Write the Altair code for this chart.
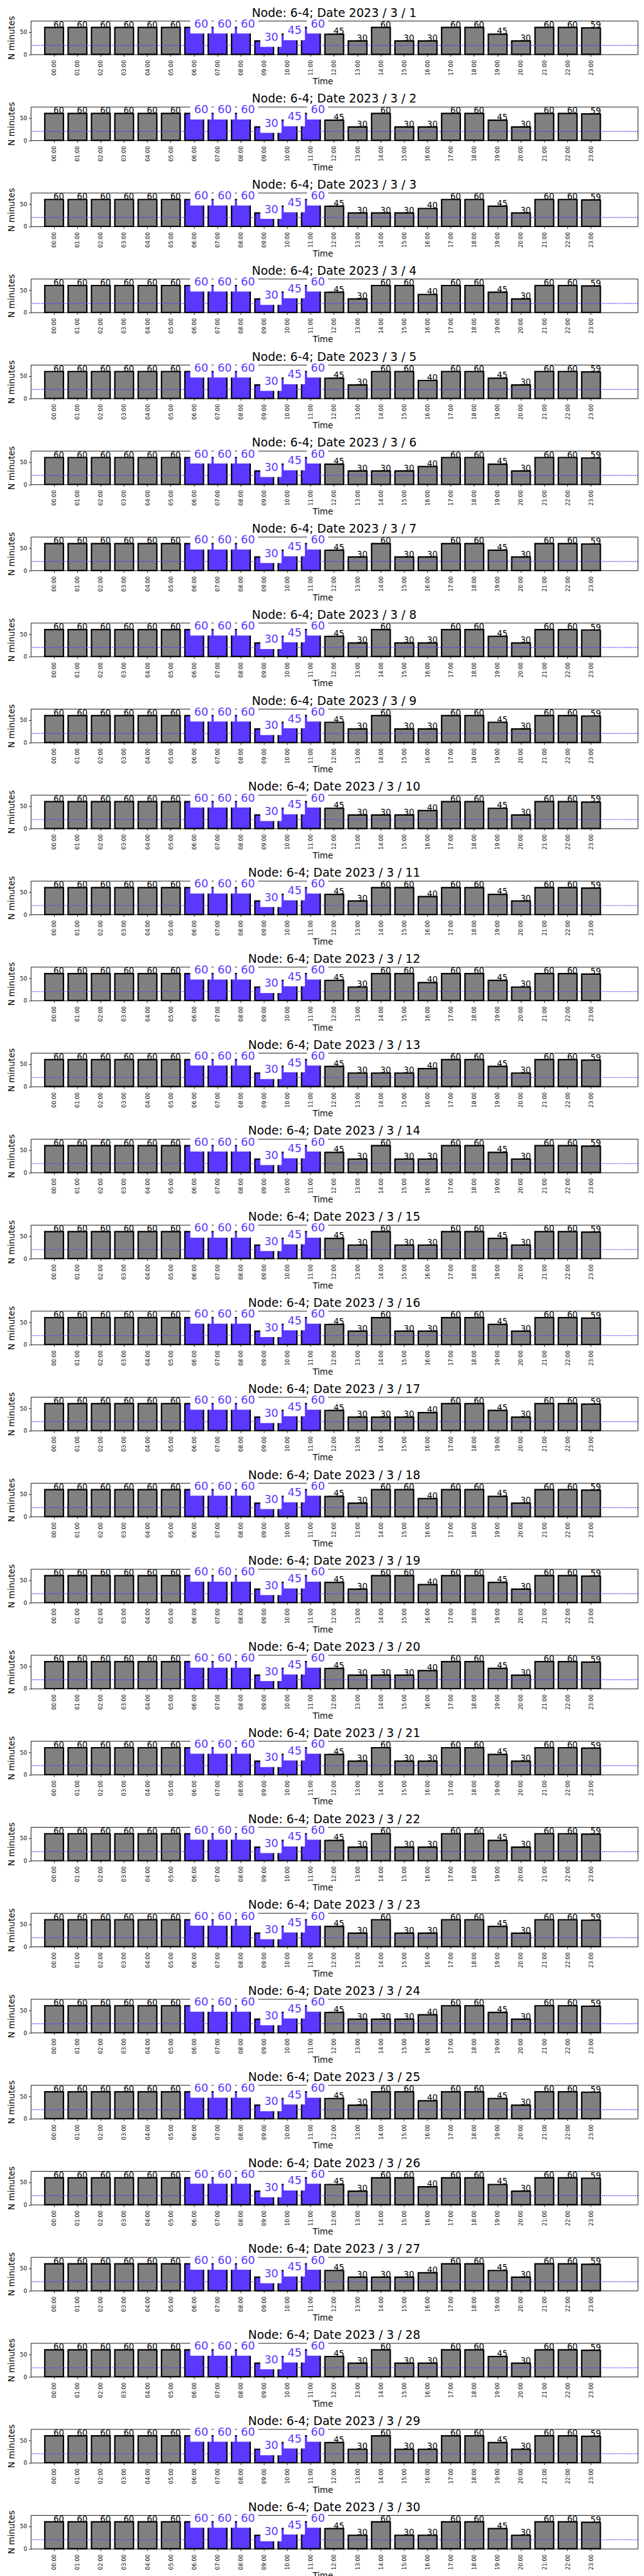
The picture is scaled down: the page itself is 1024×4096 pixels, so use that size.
import altair as alt
import pandas as pd

# ---------------- data ----------------
NODE = "6-4"
YEAR, MONTH = 2023, 3
DAYS = list(range(1, 31))
HOURS = ["00:00", "01:00", "02:00", "03:00", "04:00", "05:00",
         "06:00", "07:00", "08:00", "09:00", "10:00", "11:00",
         "12:00", "13:00", "14:00", "15:00", "16:00", "17:00",
         "18:00", "19:00", "20:00", "21:00", "22:00", "23:00"]
HIGHLIGHT_HOURS = ["06:00", "07:00", "08:00", "09:00", "10:00", "11:00"]
THRESHOLD = 20

# minutes per hour, one list per day
MINUTES = {
    1:  [60, 60, 60, 60, 60, 60, 60, 60, 60, 30, 45, 60, 45, 30, 60, 30, 30, 60, 60, 45, 30, 60, 60, 59],
    2:  [60, 60, 60, 60, 60, 60, 60, 60, 60, 30, 45, 60, 45, 30, 60, 30, 30, 60, 60, 45, 30, 60, 60, 59],
    3:  [60, 60, 60, 60, 60, 60, 60, 60, 60, 30, 45, 60, 45, 30, 30, 30, 40, 60, 60, 45, 30, 60, 60, 59],
    4:  [60, 60, 60, 60, 60, 60, 60, 60, 60, 30, 45, 60, 45, 30, 60, 60, 40, 60, 60, 45, 30, 60, 60, 59],
    5:  [60, 60, 60, 60, 60, 60, 60, 60, 60, 30, 45, 60, 45, 30, 60, 60, 40, 60, 60, 45, 30, 60, 60, 59],
    6:  [60, 60, 60, 60, 60, 60, 60, 60, 60, 30, 45, 60, 45, 30, 30, 30, 40, 60, 60, 45, 30, 60, 60, 59],
    7:  [60, 60, 60, 60, 60, 60, 60, 60, 60, 30, 45, 60, 45, 30, 60, 30, 30, 60, 60, 45, 30, 60, 60, 59],
    8:  [60, 60, 60, 60, 60, 60, 60, 60, 60, 30, 45, 60, 45, 30, 60, 30, 30, 60, 60, 45, 30, 60, 60, 59],
    9:  [60, 60, 60, 60, 60, 60, 60, 60, 60, 30, 45, 60, 45, 30, 60, 30, 30, 60, 60, 45, 30, 60, 60, 59],
    10: [60, 60, 60, 60, 60, 60, 60, 60, 60, 30, 45, 60, 45, 30, 30, 30, 40, 60, 60, 45, 30, 60, 60, 59],
    11: [60, 60, 60, 60, 60, 60, 60, 60, 60, 30, 45, 60, 45, 30, 60, 60, 40, 60, 60, 45, 30, 60, 60, 59],
    12: [60, 60, 60, 60, 60, 60, 60, 60, 60, 30, 45, 60, 45, 30, 60, 60, 40, 60, 60, 45, 30, 60, 60, 59],
    13: [60, 60, 60, 60, 60, 60, 60, 60, 60, 30, 45, 60, 45, 30, 30, 30, 40, 60, 60, 45, 30, 60, 60, 59],
    14: [60, 60, 60, 60, 60, 60, 60, 60, 60, 30, 45, 60, 45, 30, 60, 30, 30, 60, 60, 45, 30, 60, 60, 59],
    15: [60, 60, 60, 60, 60, 60, 60, 60, 60, 30, 45, 60, 45, 30, 60, 30, 30, 60, 60, 45, 30, 60, 60, 59],
    16: [60, 60, 60, 60, 60, 60, 60, 60, 60, 30, 45, 60, 45, 30, 60, 30, 30, 60, 60, 45, 30, 60, 60, 59],
    17: [60, 60, 60, 60, 60, 60, 60, 60, 60, 30, 45, 60, 45, 30, 30, 30, 40, 60, 60, 45, 30, 60, 60, 59],
    18: [60, 60, 60, 60, 60, 60, 60, 60, 60, 30, 45, 60, 45, 30, 60, 60, 40, 60, 60, 45, 30, 60, 60, 59],
    19: [60, 60, 60, 60, 60, 60, 60, 60, 60, 30, 45, 60, 45, 30, 60, 60, 40, 60, 60, 45, 30, 60, 60, 59],
    20: [60, 60, 60, 60, 60, 60, 60, 60, 60, 30, 45, 60, 45, 30, 30, 30, 40, 60, 60, 45, 30, 60, 60, 59],
    21: [60, 60, 60, 60, 60, 60, 60, 60, 60, 30, 45, 60, 45, 30, 60, 30, 30, 60, 60, 45, 30, 60, 60, 59],
    22: [60, 60, 60, 60, 60, 60, 60, 60, 60, 30, 45, 60, 45, 30, 60, 30, 30, 60, 60, 45, 30, 60, 60, 59],
    23: [60, 60, 60, 60, 60, 60, 60, 60, 60, 30, 45, 60, 45, 30, 60, 30, 30, 60, 60, 45, 30, 60, 60, 59],
    24: [60, 60, 60, 60, 60, 60, 60, 60, 60, 30, 45, 60, 45, 30, 30, 30, 40, 60, 60, 45, 30, 60, 60, 59],
    25: [60, 60, 60, 60, 60, 60, 60, 60, 60, 30, 45, 60, 45, 30, 60, 60, 40, 60, 60, 45, 30, 60, 60, 59],
    26: [60, 60, 60, 60, 60, 60, 60, 60, 60, 30, 45, 60, 45, 30, 60, 60, 40, 60, 60, 45, 30, 60, 60, 59],
    27: [60, 60, 60, 60, 60, 60, 60, 60, 60, 30, 45, 60, 45, 30, 30, 30, 40, 60, 60, 45, 30, 60, 60, 59],
    28: [60, 60, 60, 60, 60, 60, 60, 60, 60, 30, 45, 60, 45, 30, 60, 30, 30, 60, 60, 45, 30, 60, 60, 59],
    29: [60, 60, 60, 60, 60, 60, 60, 60, 60, 30, 45, 60, 45, 30, 60, 30, 30, 60, 60, 45, 30, 60, 60, 59],
    30: [60, 60, 60, 60, 60, 60, 60, 60, 60, 30, 45, 60, 45, 30, 60, 30, 30, 60, 60, 45, 30, 60, 60, 59],
}

# ---------------- style ----------------
FONT = "DejaVu Sans"
BLUE = "#5b37ff"
GRAY = "#808080"
PLOT_W = 966
PLOT_H = 53.5
PANEL_STEP = 136.4
STEP = PLOT_W / 26.0


def panel(day):
    df = pd.DataFrame({"hour": HOURS, "value": MINUTES[day]})
    df["kind"] = ["highlight" if h in HIGHLIGHT_HOURS else "normal" for h in HOURS]
    thr = pd.DataFrame({"threshold": [THRESHOLD]})
    ttl = pd.DataFrame({"title": [f"Node: {NODE}; Date {YEAR} / {MONTH} / {day}"]})

    x = alt.X(
        "hour:N",
        sort=HOURS,
        scale=alt.Scale(domain=HOURS, paddingInner=0.2, paddingOuter=0.5,
                        range=[0.1 * STEP, 0.1 * STEP + 24.8 * STEP]),
        axis=alt.Axis(title="Time", labelAngle=270),
    )
    y = alt.Y(
        "value:Q",
        scale=alt.Scale(domain=[0, 75], nice=False),
        axis=alt.Axis(title="N minutes", values=[0, 50]),
    )

    base = alt.Chart(df)
    bars = base.mark_bar(stroke="black", strokeWidth=2.2).encode(
        x=x,
        y=y,
        color=alt.Color("kind:N", scale=alt.Scale(domain=["normal", "highlight"], range=[GRAY, BLUE]), legend=None),
    )
    rule = alt.Chart(thr).mark_rule(color=BLUE, strokeWidth=1.4, strokeDash=[1.5, 1.4]).encode(
        y=alt.Y("threshold:Q")
    )
    normal_text = base.transform_filter(alt.datum.kind == "normal").mark_text(
        align="left", baseline="alphabetic", fontSize=13.3, font=FONT, color="black", dx=-1, dy=0
    ).encode(x=x, y=y, text="value:Q")
    boxes = base.transform_filter(alt.datum.kind == "highlight").mark_bar(
        color="white", width=33.8, xOffset=10.7, yOffset=-19.8, y2Offset=9.5
    ).encode(x=x, y=y, y2=alt.Y2("value:Q"))
    hl_text = base.transform_filter(alt.datum.kind == "highlight").mark_text(
        align="left", baseline="alphabetic", fontSize=17.7, font=FONT, color=BLUE, dx=0, dy=0
    ).encode(x=x, y=y, text="value:Q")
    title = alt.Chart(ttl).mark_text(
        align="center", baseline="alphabetic", fontSize=18.7, font=FONT, color="black"
    ).encode(x=alt.value(PLOT_W / 2), y=alt.value(-6.5), text="title:N")

    return alt.layer(bars, rule, normal_text, boxes, hl_text, title).properties(
        width=PLOT_W,
        height=PLOT_H,
    )


chart = alt.vconcat(
    *[panel(d) for d in DAYS], spacing=PANEL_STEP - PLOT_H, bounds="flush"
).properties(
    padding={"left": 2, "top": 1, "right": 0, "bottom": 0}
).configure_view(
    stroke="black", strokeWidth=0.9
).configure_axis(
    grid=False, domain=False,
    labelFont=FONT, titleFont=FONT, labelColor="black", titleColor="black",
    tickColor="black", tickSize=3.4, tickWidth=0.9, titleFontWeight="normal",
).configure_axisX(
    labelFontSize=8.5, labelPadding=5.3, titleFontSize=13.2, titlePadding=4,
).configure_axisY(
    labelFontSize=8.9, labelPadding=3, titleFontSize=13.6, titlePadding=6,
)

chart.save("out.html", embed_options={"renderer": "svg", "actions": False})
